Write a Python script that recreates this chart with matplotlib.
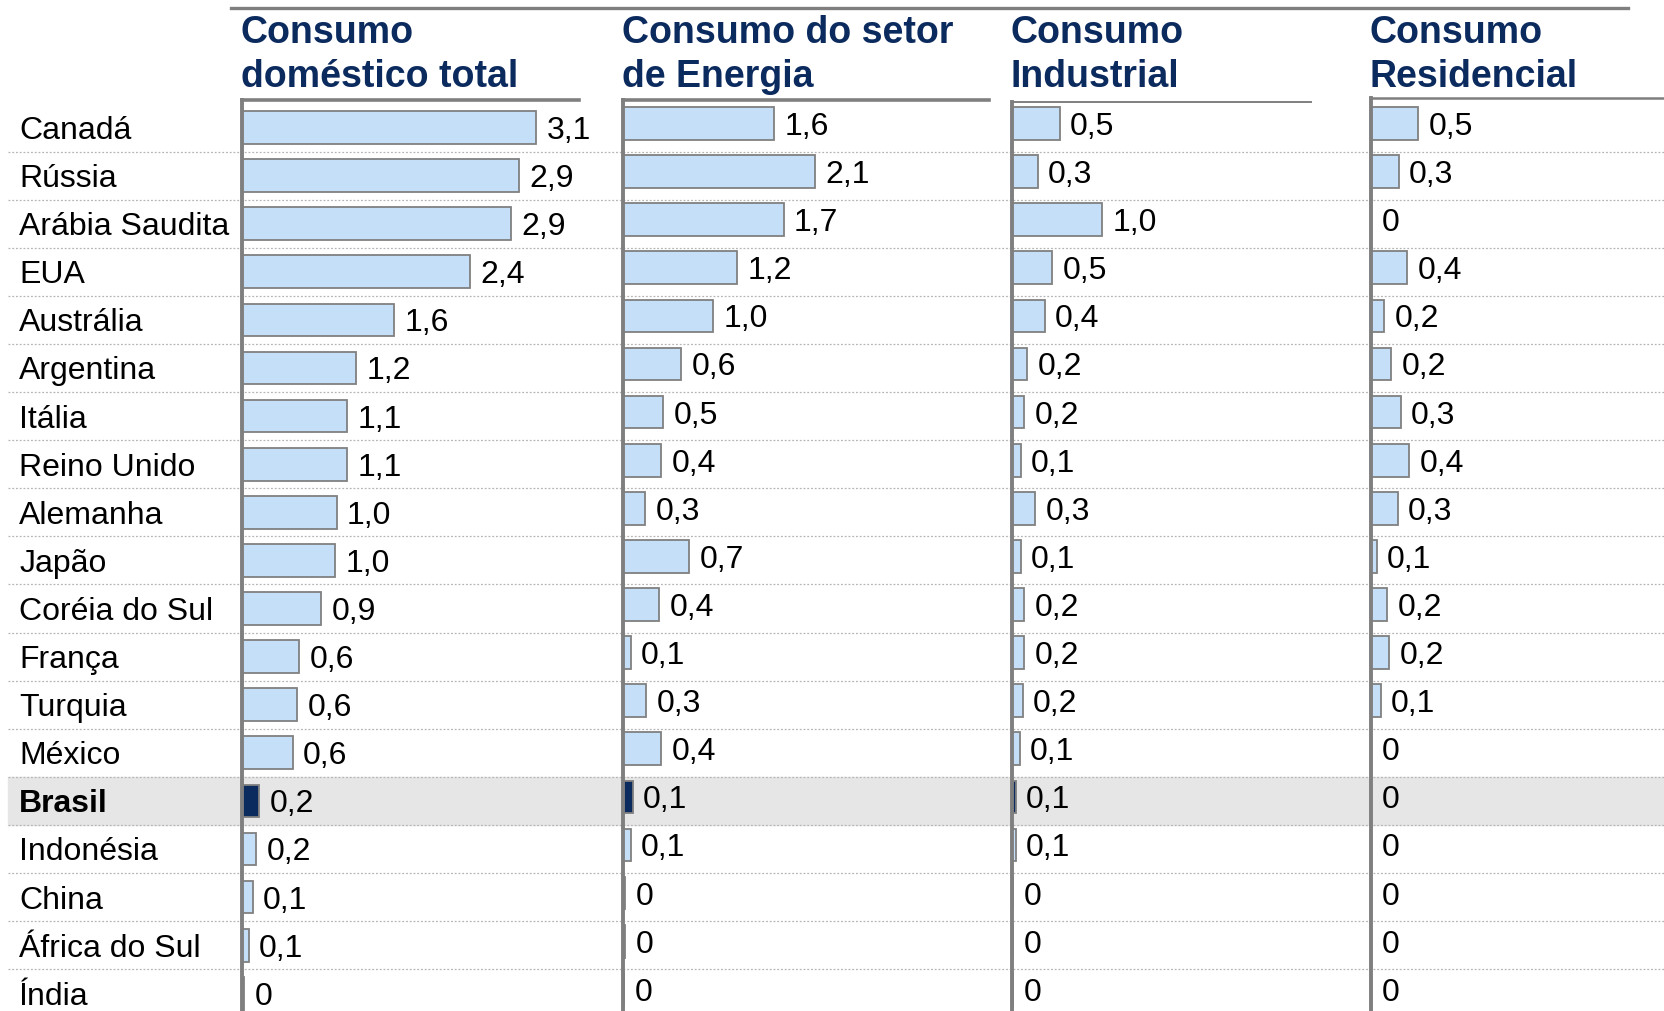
import matplotlib
matplotlib.use("Agg")
import matplotlib.pyplot as plt
from matplotlib.lines import Line2D

plt.rcParams['font.family'] = ['Liberation Sans', 'DejaVu Sans']

countries = ["Canadá", "Rússia", "Arábia Saudita", "EUA", "Austrália", "Argentina",
             "Itália", "Reino Unido", "Alemanha", "Japão", "Coréia do Sul", "França",
             "Turquia", "México", "Brasil", "Indonésia", "China", "África do Sul", "Índia"]
highlight = "Brasil"

# bar lengths
total = [3.08, 2.90, 2.81, 2.38, 1.59, 1.19, 1.10, 1.10, 0.99, 0.97, 0.83, 0.60,
         0.58, 0.53, 0.18, 0.15, 0.11, 0.07, 0.02]
energia = [1.58, 2.01, 1.68, 1.19, 0.94, 0.61, 0.42, 0.40, 0.23, 0.69, 0.38, 0.08,
           0.24, 0.40, 0.10, 0.08, 0.02, 0.02, 0.01]
industrial = [0.50, 0.27, 0.94, 0.42, 0.34, 0.16, 0.13, 0.09, 0.24, 0.09, 0.13, 0.13,
              0.11, 0.08, 0.04, 0.04, 0.01, 0.01, 0.01]
residencial = [0.49, 0.29, 0.0, 0.38, 0.14, 0.21, 0.31, 0.40, 0.28, 0.06, 0.17, 0.19,
               0.10, 0.0, 0.0, 0.0, 0.0, 0.0, 0.0]

# printed labels
total_lbl = ["3,1", "2,9", "2,9", "2,4", "1,6", "1,2", "1,1", "1,1", "1,0", "1,0",
             "0,9", "0,6", "0,6", "0,6", "0,2", "0,2", "0,1", "0,1", "0"]
energia_lbl = ["1,6", "2,1", "1,7", "1,2", "1,0", "0,6", "0,5", "0,4", "0,3", "0,7",
               "0,4", "0,1", "0,3", "0,4", "0,1", "0,1", "0", "0", "0"]
industrial_lbl = ["0,5", "0,3", "1,0", "0,5", "0,4", "0,2", "0,2", "0,1", "0,3", "0,1",
                  "0,2", "0,2", "0,2", "0,1", "0,1", "0,1", "0", "0", "0"]
residencial_lbl = ["0,5", "0,3", "0", "0,4", "0,2", "0,2", "0,3", "0,4", "0,3", "0,1",
                   "0,2", "0,2", "0,1", "0", "0", "0", "0", "0", "0"]

titles = ["Consumo\ndoméstico total", "Consumo do setor\nde Energia",
          "Consumo\nIndustrial", "Consumo\nResidencial"]

W, H = 1665, 1012
ROW0 = 128.5      # pixel centre of first row
ROW_H = 48.1      # pixel height of one row
PX_UNIT = 95.6    # pixels per unit on the value axis

NAVY = "#0b2a5e"
LIGHT = "#c6dff8"
EDGE = "#808080"
GRAY = "#7f7f7f"

fig = plt.figure(figsize=(W / 100, H / 100), dpi=100)

# background: row labels, dotted separators, highlighted row
ax_bg = fig.add_axes([0, -10 / H, 1, (H + 10) / H])
ax_bg.set_xlim(0, 1)
ax_bg.set_ylim((H + 10 - ROW0) / ROW_H, -ROW0 / ROW_H)
ax_bg.axis("off")
hi = countries.index(highlight)
ax_bg.axhspan(hi - 0.5, hi + 0.5, xmin=0.005, xmax=1, color="#e6e6e6", zorder=0)
ax_bg.hlines([i + 0.5 for i in range(len(countries) - 1)], 0.005, 1,
             colors="#b5b5b5", linestyles=(0, (1.5, 1.5)), linewidth=0.9, zorder=1)
for i, c in enumerate(countries):
    ax_bg.text(0.0115, i + 0.05, c, va="center", ha="left", fontsize=23,
               fontweight="bold" if c == highlight else "normal", color="black")

fig.add_artist(Line2D([231 / W, 1628 / W], [1 - 9 / H, 1 - 9 / H],
                      color=GRAY, linewidth=2.4))

panels = [
    # values, labels, left px, width in units, header line px, header lw, shift px
    (total, total_lbl, 242, 3.52, 101, 2.6, 0),
    (energia, energia_lbl, 623, 3.83, 101, 2.6, 4),
    (industrial, industrial_lbl, 1012, 3.13, 103, 1.4, 4),
    (residencial, residencial_lbl, 1371, 3.10, 99, 1.8, 4),
]

for (vals, lbls, left, wu, top, top_lw, shift), title in zip(panels, titles):
    ax = fig.add_axes([left / W, -10 / H, wu * PX_UNIT / W, (H + 10 - top) / H])
    ax.patch.set_visible(False)
    ax.set_xlim(0, wu)
    ax.set_ylim((H + 10 - ROW0 + shift) / ROW_H, (top - ROW0 + shift) / ROW_H)
    colors = [NAVY if c == highlight else LIGHT for c in countries]
    bars = ax.barh(range(len(countries)), vals, height=0.68, color=colors,
                   edgecolor=EDGE, linewidth=1.3, zorder=2)
    for b, lab in zip(bars, lbls):
        ax.annotate(lab, (b.get_width(), b.get_y() + b.get_height() / 2 + 0.05),
                    xytext=(7.5, 0), textcoords="offset points",
                    va="center", ha="left", fontsize=23, color="black")
    for s in ("right", "bottom"):
        ax.spines[s].set_visible(False)
    ax.spines["left"].set_color(GRAY)
    ax.spines["left"].set_linewidth(2.8)
    ax.spines["left"].set_zorder(3)
    ax.spines["top"].set_color(GRAY)
    ax.spines["top"].set_linewidth(top_lw)
    ax.set_xticks([])
    ax.set_yticks([])
    fig.text((left - 1) / W, 1 - 15 / H, title, va="top", ha="left",
             fontsize=27, fontweight="bold", color=NAVY, linespacing=1.3)

fig.savefig("out.png", dpi=100)
